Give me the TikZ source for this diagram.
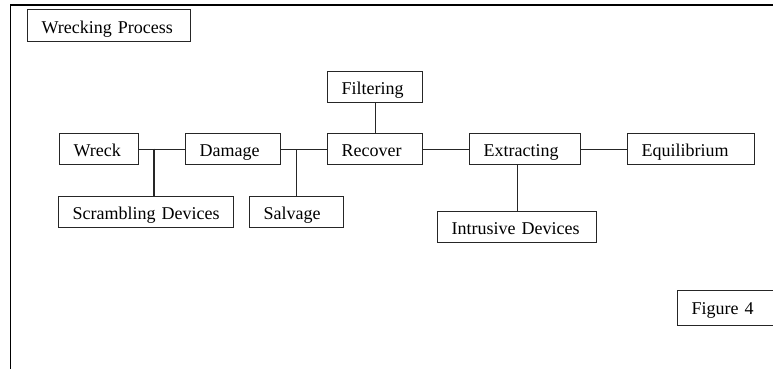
\documentclass[tikz,border=0pt]{standalone}
\usepackage{fontspec}
\setmainfont{Liberation Serif}
\begin{document}
\begin{tikzpicture}[x=1pt,y=-1pt,
    box/.style={draw=black!85,line width=1.3pt,anchor=north west,
      inner xsep=14pt,inner ysep=0pt,minimum height=31pt,
      text height=15pt,text depth=0pt,align=left,
      font=\fontsize{18}{20}\selectfont},
    link/.style={draw=black!85,line width=1.3pt}]
  \useasboundingbox (0,0) rectangle (773,368);
  \clip (0,0) rectangle (773,368);
  % outer frame
  \draw[line width=1.8pt] (10.5,5) rectangle (800,400);
  % boxes
  \node[box,text width=135pt,minimum height=32pt] (title) at (27,9) {Wrecking Process};
  \node[box,text width=67pt] (filtering) at (327,71) {Filtering};
  \node[box,text width=51pt] (wreck) at (59,133) {Wreck};
  \node[box,text width=67pt] (damage) at (185,133) {Damage};
  \node[box,text width=67pt] (recover) at (327,133) {Recover};
  \node[box,text width=83pt] (extracting) at (469,133) {Extracting};
  \node[box,text width=99pt] (equilibrium) at (627,133) {Equilibrium};
  \node[box,text width=147pt] (scrambling) at (58,196) {Scrambling Devices};
  \node[box,text width=66pt] (salvage) at (249,196) {Salvage};
  \node[box,text width=131pt] (intrusive) at (437,211) {Intrusive Devices};
  \node[box,text width=82pt,minimum height=35pt,text height=13pt] (figure) at (677,290) {Figure 4};
  % connectors
  \coordinate (wj) at (154,148.5);
  \path[link] (wreck.east) -- (damage.west);
  \path[link] (wj) -- (wj |- scrambling.north);
  \path[link] (damage.east) -- (recover.west);
  \path[link] (salvage.north) -- (salvage.north |- damage.east);
  \path[link] (filtering.south) -- (recover.north);
  \path[link] (recover.east) -- (extracting.west);
  \path[link] (intrusive.north) -- (intrusive.north |- extracting.south);
  \path[link] (extracting.east) -- (equilibrium.west);
\end{tikzpicture}
\end{document}
